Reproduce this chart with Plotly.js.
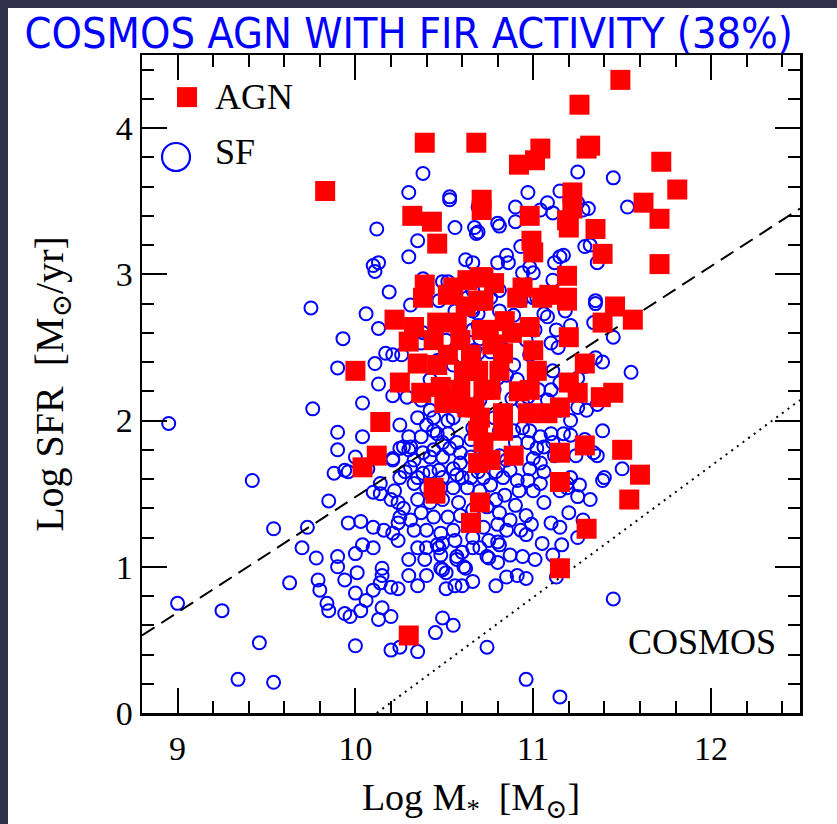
<!DOCTYPE html>
<html><head><meta charset="utf-8">
<script src="https://cdn.plot.ly/plotly-3.0.1.min.js"></script>
<style>
html,body{margin:0;padding:0;background:#30304a;width:837px;height:824px;overflow:hidden}
#chart{position:absolute;left:8px;top:8px;width:829px;height:816px;background:#fff}
</style></head><body><div id="chart"></div><script>
// Star-forming galaxies: [log M*, log SFR]
const sfPoints = [
[8.95,1.98],[9.00,0.75],[9.25,0.70],[9.34,0.23],[9.46,0.48],[9.54,0.21],[9.42,1.59],[9.54,1.26],[9.63,0.89],[9.70,1.13],
[9.73,1.27],[9.78,1.06],[9.76,2.08],[9.75,2.77],[9.85,1.45],[9.79,0.91],[9.80,0.84],[9.84,0.75],[9.85,0.70],[9.90,1.07],
[9.90,1.00],[9.94,0.68],[9.97,0.66],[9.96,1.30],[10.00,0.82],[10.00,0.46],[10.01,0.96],[10.00,1.09],[10.03,1.31],[10.04,1.15],
[10.10,1.51],[10.14,1.50],[10.20,1.46],[10.10,1.27],[10.16,1.25],[10.21,1.23],[10.24,1.30],[10.25,1.34],[10.24,1.18],[10.10,1.13],
[10.10,0.84],[10.14,0.89],[10.20,0.86],[10.24,0.85],[10.15,0.72],[10.20,0.66],[10.13,0.64],[10.15,0.99],[10.15,0.94],[10.30,0.94],
[10.35,0.87],[10.40,0.94],[10.48,0.99],[10.51,0.96],[10.51,0.85],[10.56,0.87],[10.60,0.87],[10.66,0.90],[10.79,0.87],[10.85,0.93],
[10.91,0.94],[10.96,0.92],[10.75,1.06],[10.80,1.03],[10.94,1.07],[11.05,1.16],[11.10,1.30],[11.15,1.27],[11.20,1.37],[11.25,1.48],
[11.19,1.54],[11.06,1.44],[11.00,1.52],[10.99,1.29],[10.93,1.25],[10.96,1.22],[10.85,1.25],[10.80,1.17],[10.75,1.18],[10.70,1.13],
[10.61,1.00],[10.57,1.05],[10.60,1.10],[10.49,0.98],[10.45,0.55],[10.49,0.65],[10.55,0.60],[10.20,0.43],[10.25,0.45],[10.35,0.42],
[10.74,0.45],[11.45,0.78],[10.96,0.23],[11.15,0.11],[11.39,1.59],[11.25,1.20],[11.13,0.93],[10.35,1.13],[10.40,1.13],[10.47,1.13],
[10.49,1.16],[9.93,2.56],[9.90,2.36],[10.11,2.39],[10.17,2.46],[10.13,2.25],[10.04,2.12],[9.90,1.92],[9.90,1.80],[10.04,1.89],
[9.88,1.64],[9.96,1.65],[10.24,1.44],[10.14,1.57],[10.25,1.61],[10.21,1.73],[10.27,1.82],[10.21,2.45],[10.26,2.45],[10.21,2.17],
[10.06,2.73],[10.13,2.63],[10.19,2.88],[10.38,3.69],[10.30,3.56],[10.53,3.53],[10.53,3.51],[10.69,3.46],[10.12,3.31],[10.35,3.23],
[10.56,3.32],[10.67,3.32],[10.68,3.28],[10.30,3.12],[10.10,3.06],[10.13,3.08],[10.11,3.02],[10.38,2.97],[10.49,2.95],[10.52,2.95],
[10.62,3.10],[10.66,3.08],[10.66,2.89],[11.25,3.70],[11.45,3.66],[10.97,3.56],[11.15,3.57],[11.08,3.49],[11.11,3.42],[11.04,3.44],
[10.90,3.46],[10.90,3.36],[10.80,3.35],[10.81,3.33],[10.69,3.29],[11.25,3.49],[11.31,3.45],[11.28,3.44],[11.53,3.46],[11.29,3.19],
[11.32,3.20],[11.36,3.08],[11.17,3.13],[11.15,3.12],[11.12,3.08],[10.85,3.13],[10.80,3.08],[10.86,3.08],[10.93,3.19],[10.94,3.01],
[11.00,3.01],[10.98,3.05],[11.11,2.96],[11.35,2.82],[11.02,2.84],[11.35,2.80],[11.34,2.67],[11.45,2.57],[11.21,2.65],[11.55,2.33],
[11.39,2.40],[11.35,2.43],[11.29,2.37],[11.25,2.29],[11.14,2.50],[11.10,2.53],[11.08,2.71],[11.06,2.73],[10.69,2.65],[10.69,2.46],
[10.83,2.49],[10.70,2.56],[11.11,2.34],[11.15,2.26],[11.10,2.21],[11.25,2.09],[11.30,2.07],[11.36,2.11],[11.39,1.93],[11.50,1.67],
[11.40,1.61],[11.36,1.76],[11.34,1.78],[11.17,1.91],[11.21,1.90],[11.10,1.91],[11.04,1.89],[10.98,1.93],[10.94,1.95],[10.97,1.85],
[11.02,1.81],[11.06,1.82],[11.00,1.74],[11.04,1.71],[10.98,1.67],[11.06,1.65],[10.97,1.59],[11.04,1.57],[10.91,1.59],[10.83,1.61],
[10.79,1.65],[10.72,1.61],[10.69,1.65],[10.85,1.73],[10.70,2.02],[10.78,2.02],[10.66,1.95],[10.89,1.93],[10.90,1.85],[11.21,1.61],
[11.19,1.57],[11.08,2.14],[11.03,2.21],[10.97,2.16],[10.94,2.12],[10.88,2.15],[11.11,1.85],[11.15,1.52],[10.89,2.38],[10.84,2.43],
[10.80,2.29],[10.78,2.21],[10.85,2.31],[10.91,2.28],[10.76,2.60],[10.89,2.72],[10.93,2.82],[11.00,2.84],[11.08,2.86],[10.76,2.84],
[10.66,2.75],[10.25,1.97],[10.35,2.02],[10.30,1.89],[10.37,1.89],[10.44,1.93],[10.52,2.00],[10.52,1.91],[10.30,1.80],[10.38,1.78],
[10.44,1.80],[10.53,1.81],[10.59,1.78],[10.31,1.68],[10.38,1.64],[10.47,1.66],[10.55,1.67],[10.60,1.61],[10.33,1.57],[10.40,1.54],
[10.48,1.54],[10.55,1.54],[10.63,1.54],[10.35,1.46],[10.42,1.44],[10.49,1.46],[10.58,1.44],[10.37,1.37],[10.44,1.34],[10.52,1.34],
[10.59,1.35],[10.66,1.39],[10.40,1.25],[10.48,1.23],[10.55,1.25],[10.66,1.20],[10.72,1.27],[10.74,1.07],[10.46,1.15],[10.57,1.07],
[10.62,0.99],[10.66,1.13],[10.74,1.41],[10.40,1.97],[10.44,2.02],[10.55,2.02],[10.46,1.91],[10.31,1.82],[10.49,1.85],[10.57,1.85],
[10.25,1.81],[10.42,1.75],[10.49,1.75],[10.59,1.71],[10.65,1.75],[10.33,1.73],[10.28,1.65],[10.35,1.61],[10.42,1.65],[10.49,1.61],
[10.57,1.63],[10.65,1.61],[10.21,1.74],[10.07,1.67],[9.94,1.66],[10.00,1.75],[10.65,2.34],[10.67,2.48],[10.67,2.41],[10.66,2.62],
[10.66,2.77],[10.69,2.73],[10.63,2.84],[10.38,2.60],[10.37,2.53],[10.42,2.28],[10.29,2.16],[10.37,2.14],[10.42,2.07],[10.49,2.12],
[10.70,1.52],[10.79,1.46],[10.84,1.49],[10.90,1.42],[10.96,1.35],[10.87,1.32],[10.80,1.29],[10.81,1.37],[10.31,1.32],[10.33,1.25],
[10.27,1.40],[10.22,1.52],[10.76,1.56],[10.92,1.52],[10.87,1.66],[10.81,1.76],[10.73,1.76],[10.65,1.87],[10.73,1.87],[10.81,1.93],
[10.63,2.11],[10.70,2.14],[10.60,2.21],[10.51,2.24],[10.55,2.38],[10.46,2.41],[10.76,2.47],[10.81,2.38],[10.98,2.45],[11.04,2.34],
[10.96,2.55],[11.01,2.62],[11.13,2.62],[11.18,2.75],[10.81,2.89],[10.81,2.75],[10.56,2.75],[10.51,2.55],[10.47,2.82],[10.31,2.79],
[10.22,2.69],[11.15,2.07],[11.21,2.00],[11.12,1.76],[11.24,1.76],[11.29,1.87],[11.26,1.56],[11.32,1.46],[11.28,1.32],[11.16,1.15],
[11.11,1.08],[11.01,1.05],[10.87,1.08],[10.81,1.15],[10.65,1.29],[10.56,1.18],[10.48,1.08],[10.39,1.05],[10.30,1.05],[9.94,0.91],
[10.06,0.77],[10.03,0.70]
];
// AGN hosts: [log M*, log SFR]
const agnPoints = [
[11.49,4.33],[11.26,4.16],[10.39,3.90],[10.68,3.90],[11.04,3.86],[11.01,3.78],[10.92,3.75],[11.32,3.88],[11.30,3.86],[11.72,3.77],
[11.81,3.58],[11.62,3.49],[11.71,3.38],[11.22,3.56],[11.22,3.45],[10.98,3.40],[11.19,3.37],[11.20,3.32],[11.35,3.31],[10.99,3.23],
[11.00,3.15],[11.39,3.14],[11.71,3.07],[11.19,2.99],[10.72,2.98],[10.78,2.94],[10.94,2.91],[11.09,2.86],[11.19,2.84],[9.83,3.57],
[10.32,3.40],[10.43,3.36],[10.46,3.21],[10.71,3.44],[10.71,3.51],[10.39,2.93],[10.55,2.91],[10.63,2.96],[10.70,2.98],[10.38,2.84],
[10.52,2.86],[10.69,2.82],[10.22,2.69],[10.33,2.64],[10.46,2.67],[10.57,2.67],[10.71,2.62],[10.30,2.54],[10.44,2.55],[10.59,2.55],
[10.00,2.34],[10.35,2.39],[10.46,2.38],[10.61,2.34],[10.25,2.26],[10.37,2.19],[10.48,2.23],[10.59,2.21],[10.72,2.21],[10.63,2.09],
[10.70,2.02],[10.14,1.99],[10.12,1.76],[10.04,1.68],[10.44,1.54],[10.72,1.85],[10.69,1.71],[10.72,2.82],[10.91,2.84],[11.05,2.84],
[11.19,2.82],[11.46,2.78],[11.39,2.67],[11.56,2.69],[10.75,2.62],[10.98,2.64],[11.20,2.57],[10.83,2.46],[11.00,2.48],[11.29,2.39],
[10.69,2.34],[10.81,2.34],[11.02,2.34],[11.20,2.26],[10.76,2.21],[10.98,2.21],[11.25,2.19],[11.38,2.16],[11.45,2.19],[10.67,2.09],
[10.83,2.05],[10.97,2.05],[11.08,2.05],[11.15,2.09],[10.69,1.93],[10.83,1.93],[11.29,1.83],[11.50,1.80],[11.15,1.78],[10.76,1.73],
[10.89,1.76],[11.15,1.58],[11.60,1.63],[11.54,1.46],[10.45,1.50],[10.70,1.44],[10.65,1.30],[11.30,1.26],[11.15,0.99],[10.30,0.53],
[10.52,2.45],[10.65,2.45],[10.88,2.60],[10.92,2.20],[10.57,2.12],[10.84,2.68],[10.62,2.78],[10.50,2.12],[10.77,2.52]
];
// Reference relations (end points)
const dashedLogM = [8.8, 12.5];
const dashedLogSFR = [0.53, 3.45];
const dottedLogM = [10.12, 12.5];
const dottedLogSFR = [0.0, 2.14];

const serif = '"Liberation Serif", "DejaVu Serif", serif';
const BLUE = '#0000ff', RED = '#ff0000';

const traces = [
  {type:'scatter', mode:'markers', name:'SF', x:sfPoints.map(p=>p[0]), y:sfPoints.map(p=>p[1]),
   marker:{symbol:'circle-open', size:13, color:BLUE, line:{width:2, color:BLUE}}},
  {type:'scatter', mode:'lines', x:dashedLogM, y:dashedLogSFR, line:{color:'#000', width:2, dash:'15px,8px'}},
  {type:'scatter', mode:'lines', x:dottedLogM, y:dottedLogSFR, line:{color:'#000', width:2, dash:'2px,5px'}},
  {type:'scatter', mode:'markers', name:'AGN', x:agnPoints.map(p=>p[0]), y:agnPoints.map(p=>p[1]),
   marker:{symbol:'square', size:20, color:RED, line:{width:0}}}
];

const axisCommon = {
  ticks:'inside', ticklen:25, tickwidth:2, tickcolor:'#000',
  showline:true, linewidth:2.5, linecolor:'#000', mirror:'allticks',
  showgrid:false, zeroline:false,
  minor:{dtick:0.2, tick0:0, ticks:'inside', ticklen:12, tickwidth:2, tickcolor:'#000', showgrid:false},
  tickfont:{family:serif, size:34, color:'#000'}
};

const layout = {
  width:829, height:816,
  margin:{l:134, r:37, t:47, b:111},
  paper_bgcolor:'#fff', plot_bgcolor:'#fff',
  showlegend:false,
  title:{text:'COSMOS AGN WITH FIR ACTIVITY (38%)',
    font:{family:'"Liberation Sans Narrow","DejaVu Sans Condensed",sans-serif', size:43, color:BLUE},
    x:0.02, xanchor:'left', y:0.969, yanchor:'middle'},
  xaxis:Object.assign({}, axisCommon, {range:[8.8,12.5], tick0:0, dtick:1, ticklabelstandoff:4,
    title:{text:'Log M<sub>*</sub>&#160;&#160;[M<sub>⊙</sub>]', font:{family:serif, size:38, color:'#000'}, standoff:18}}),
  yaxis:Object.assign({}, axisCommon, {range:[0,4.5], tick0:0, dtick:1,
    title:{text:'Log SFR&#160;&#160;[M<sub>⊙</sub>/yr]', font:{family:serif, size:40, color:'#000'}, standoff:40}}),
  shapes:[
    {type:'rect', xref:'paper', yref:'paper', xsizemode:'pixel', ysizemode:'pixel',
     xanchor:0.0684, yanchor:0.936, x0:-10, x1:10, y0:-10, y1:10, fillcolor:RED, line:{width:0}},
    {type:'circle', xref:'paper', yref:'paper', xsizemode:'pixel', ysizemode:'pixel',
     xanchor:0.0517, yanchor:0.845, x0:-14, x1:14, y0:-14, y1:14, line:{color:BLUE, width:2.2}}
  ],
  annotations:[
    {text:'AGN', xref:'paper', yref:'paper', x:0.108, y:0.936, xanchor:'left', yanchor:'middle', showarrow:false,
     font:{family:serif, size:36, color:'#000'}},
    {text:'SF', xref:'paper', yref:'paper', x:0.108, y:0.853, xanchor:'left', yanchor:'middle', showarrow:false,
     font:{family:serif, size:36, color:'#000'}},
    {text:'COSMOS', xref:'paper', yref:'paper', x:0.967, y:0.108, xanchor:'right', yanchor:'middle', showarrow:false,
     font:{family:serif, size:36, color:'#000'}}
  ]
};

Plotly.newPlot('chart', traces, layout, {displayModeBar:false, staticPlot:true});
</script></body></html>
